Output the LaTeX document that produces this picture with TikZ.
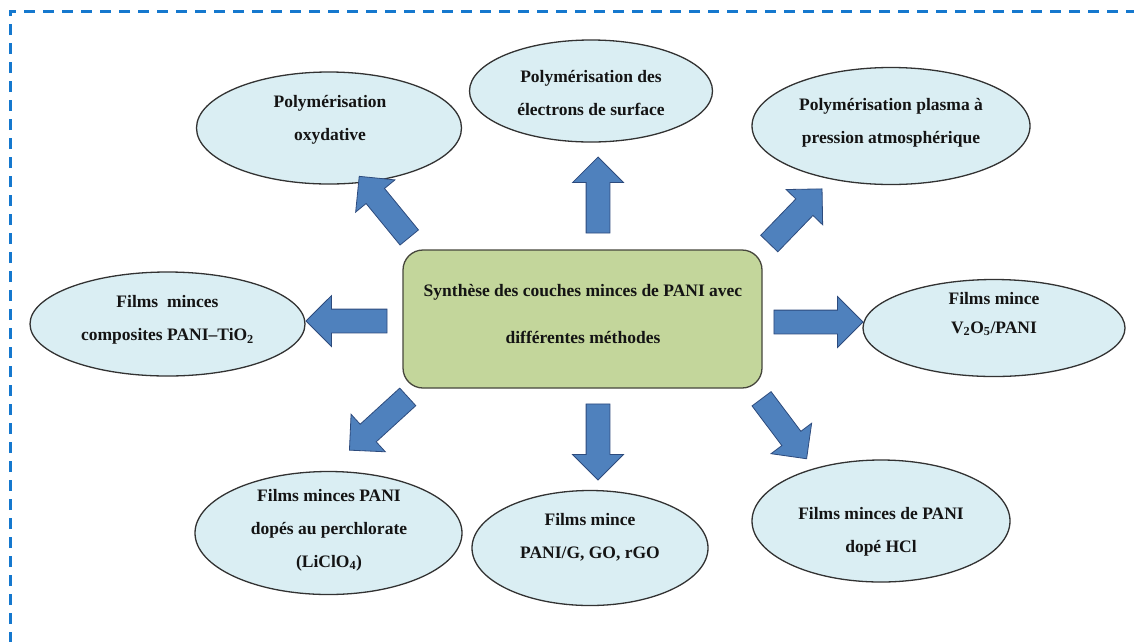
\documentclass[tikz,border=0pt]{standalone}
\usepackage{fontspec}
\setmainfont{Liberation Serif}
\usetikzlibrary{shapes.geometric,shapes.arrows}
\definecolor{framecol}{RGB}{21,120,206}
\definecolor{bubblefill}{RGB}{218,238,243}
\definecolor{bubbleline}{RGB}{50,50,50}
\definecolor{corefill}{RGB}{195,214,155}
\definecolor{coreline}{RGB}{70,70,60}
\definecolor{arrowfill}{RGB}{79,129,189}
\definecolor{arrowline}{RGB}{45,75,125}
\definecolor{ink}{RGB}{20,20,20}
\tikzset{
  bubble/.style={ellipse, draw=bubbleline, fill=bubblefill, line width=1.3pt, inner sep=0pt},
  lbl/.style={align=center, text=ink, font=\fontsize{17.5}{33}\selectfont\bfseries, inner sep=0pt},
  core/.style={rectangle, rounded corners=20pt, draw=coreline, fill=corefill, line width=1.3pt,
    minimum width=359pt, minimum height=138pt, inner sep=0pt},
  blockarrow/.style={single arrow, draw=arrowline, fill=arrowfill, line width=0.8pt,
    inner xsep=0pt, inner ysep=11.5pt, single arrow head extend=13.5pt, anchor=center}
}
\begin{document}
\begin{tikzpicture}[x=1pt,y=-1pt]
\useasboundingbox (0,0) rectangle (1134,641);
% dashed frame, only its top and left sides fall inside the page
\begin{scope}
  \clip (0,0) rectangle (1134,641);
  \draw[framecol, line width=3pt, dash pattern=on 11pt off 8pt] (10,700) -- (10,11) -- (1200,11);
\end{scope}

% central box
\node[core] (core) at (582.5,319) {};
\node[lbl, font=\fontsize{17.5}{47}\selectfont\bfseries] (coretxt) at (583,314)
  {Synthèse des couches minces de PANI avec\\différentes méthodes};

% surrounding methods
\node[bubble, minimum width=265pt, minimum height=112pt] (e1) at (329,128) {};
\node[lbl] (t1) at (330,120) {Polymérisation\\oxydative};

\node[bubble, minimum width=243pt, minimum height=102pt] (e2) at (591,91) {};
\node[lbl] (t2) at (591,93) {Polymérisation des\\électrons de surface};

\node[bubble, minimum width=278pt, minimum height=117pt] (e3) at (891,126) {};
\node[lbl] (t3) at (891,123) {Polymérisation plasma à\\pression atmosphérique};

\node[bubble, minimum width=275pt, minimum height=104pt] (e4) at (167.5,324) {};
\node[lbl] (t4) at (167.5,320) {Films\ \ minces\\composites PANI–TiO\textsubscript{2}};

\node[bubble, minimum width=262pt, minimum height=97pt] (e5) at (994,328) {};
\node[lbl, font=\fontsize{17.5}{29}\selectfont\bfseries] (t5) at (994,314) {Films mince\\V\textsubscript{2}O\textsubscript{5}/PANI};

\node[bubble, minimum width=267pt, minimum height=123pt] (e6) at (328.5,533) {};
\node[lbl] (t6) at (329,530) {Films minces PANI\\dopés au perchlorate\\(LiClO\textsubscript{4})};

\node[bubble, minimum width=236pt, minimum height=115pt] (e7) at (590,548) {};
\node[lbl] (t7) at (590,537) {Films mince\\PANI/G, GO, rGO};

\node[bubble, minimum width=258pt, minimum height=122pt] (e8) at (881,521) {};
\node[lbl] (t8) at (881,532) {Films minces de PANI\\dopé HCl};

% block arrows pointing outwards
\node[blockarrow, minimum height=76pt, rotate=90]     (a1) at (598,201)   {};
\node[blockarrow, minimum height=79pt, rotate=129.3]  (a2) at (388,211.5) {};
\node[blockarrow, minimum height=76pt, rotate=46]     (a3) at (791.5,220.5) {};
\node[blockarrow, minimum height=81pt, rotate=180]    (a4) at (352.5,321) {};
\node[blockarrow, minimum height=89pt, rotate=0]      (a5) at (812.5,322) {};
\node[blockarrow, minimum height=79pt, rotate=-137.6] (a6) at (383,419.5) {};
\node[blockarrow, minimum height=76pt, rotate=-90]    (a7) at (598,436)   {};
\node[blockarrow, minimum height=75pt, rotate=-53.1]  (a8) at (780.5,424) {};
\end{tikzpicture}
\end{document}
